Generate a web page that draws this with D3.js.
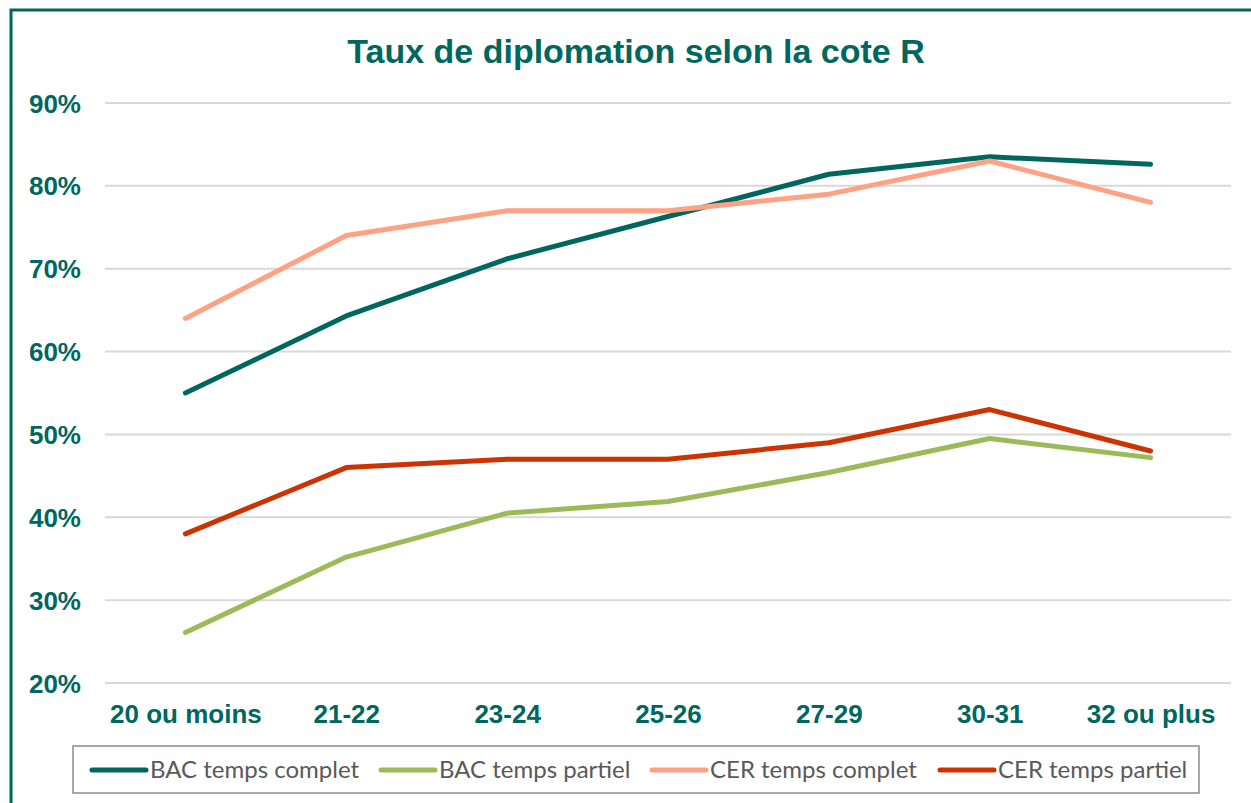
<!DOCTYPE html>
<html>
<head>
<meta charset="utf-8">
<script src="https://cdn.jsdelivr.net/npm/d3@7"></script>
<style>
  body { margin: 0; background: #fff; }
  svg { display: block; }
</style>
</head>
<body>
<svg id="chart"></svg>
<script>
// data
const categories = ["20 ou moins", "21-22", "23-24", "25-26", "27-29", "30-31", "32 ou plus"];
const bacComplet = [55.0, 64.3, 71.2, 76.3, 81.4, 83.5, 82.6];
const bacPartiel = [26.1, 35.2, 40.5, 41.9, 45.4, 49.5, 47.2];
const cerComplet = [64, 74, 77, 77, 79, 83, 78];
const cerPartiel = [38, 46, 47, 47, 49, 53, 48];
const yTicks = [20, 30, 40, 50, 60, 70, 80, 90];
const seriesNames = ["BAC temps complet", "BAC temps partiel", "CER temps complet", "CER temps partiel"];

const teal = "#00675f";
const colors = [teal, "#9bbb59", "#ffa283", "#cc3300"];
const series = [bacComplet, bacPartiel, cerComplet, cerPartiel];

const width = 1251, height = 803;
const svg = d3.select("#chart").attr("width", width).attr("height", height);

// outer frame
svg.append("rect")
    .attr("x", 11).attr("y", 10)
    .attr("width", width + 20).attr("height", height + 20)
    .attr("fill", "none")
    .attr("stroke", teal)
    .attr("stroke-width", 3);

// title
svg.append("text")
    .attr("x", 636).attr("y", 63)
    .attr("text-anchor", "middle")
    .style("font-family", "Liberation Sans, Arial, sans-serif")
    .style("font-weight", "bold")
    .style("font-size", "34px")
    .style("fill", teal)
    .text("Taux de diplomation selon la cote R");

//Scales
const x = d3.scalePoint()
    .domain(categories)
    .range([105, 1231])
    .padding(0.5);
const y = d3.scaleLinear()
    .domain([20, 90])
    .range([683, 103]);

// gridlines
svg.append("g")
    .attr("id", "grid")
    .selectAll("line")
    .data(yTicks)
    .join("line")
    .attr("x1", 105).attr("x2", 1231)
    .attr("y1", d => y(d)).attr("y2", d => y(d))
    .attr("stroke", "#d9d9d9")
    .attr("stroke-width", 2);

//Axis
const yAxis = d3.axisLeft(y)
    .tickValues(yTicks)
    .tickSize(0)
    .tickPadding(0)
    .tickFormat(d => d + "%");
const yAxisG = svg.append("g")
    .attr("transform", "translate(81,0)")
    .call(yAxis);
yAxisG.select(".domain").remove();
yAxisG.selectAll("text")
    .attr("dy", "0.35em")
    .style("font-family", "Liberation Sans, Arial, sans-serif")
    .style("font-weight", "bold")
    .style("font-size", "26px")
    .style("fill", teal);

const xAxis = d3.axisBottom(x).tickSize(0).tickPadding(0);
const xAxisG = svg.append("g")
    .attr("transform", "translate(0,714)")
    .call(xAxis);
xAxisG.select(".domain").remove();
xAxisG.selectAll("text")
    .attr("dy", "0.35em")
    .style("font-family", "Liberation Sans, Arial, sans-serif")
    .style("font-weight", "bold")
    .style("font-size", "26px")
    .style("fill", teal);

//Lines
const line = d3.line()
    .x((d, i) => x(categories[i]))
    .y(d => y(d));
svg.append("g")
    .attr("id", "lines")
    .selectAll("path")
    .data(series)
    .join("path")
    .attr("d", d => line(d))
    .attr("fill", "none")
    .attr("stroke", (d, i) => colors[i])
    .attr("stroke-width", 5)
    .attr("stroke-linecap", "round")
    .attr("stroke-linejoin", "round");

//Legend
svg.append("rect")
    .attr("x", 73).attr("y", 746)
    .attr("width", 1126).attr("height", 47)
    .attr("fill", "#fff")
    .attr("stroke", "#8c8c8c")
    .attr("stroke-width", 1.5);

const legendX = [92, 381, 652, 940];
const legend = svg.append("g")
    .selectAll("g")
    .data(seriesNames)
    .join("g")
    .attr("transform", (d, i) => `translate(${legendX[i]},770)`);
legend.append("line")
    .attr("x1", 0).attr("x2", 54)
    .attr("stroke", (d, i) => colors[i])
    .attr("stroke-width", 5)
    .attr("stroke-linecap", "round");
legend.append("text")
    .attr("x", 58)
    .attr("dy", "0.35em")
    .style("font-family", "Lato, sans-serif")
    .style("font-size", "24px")
    .style("fill", "#595959")
    .text(d => d);
</script>
</body>
</html>
